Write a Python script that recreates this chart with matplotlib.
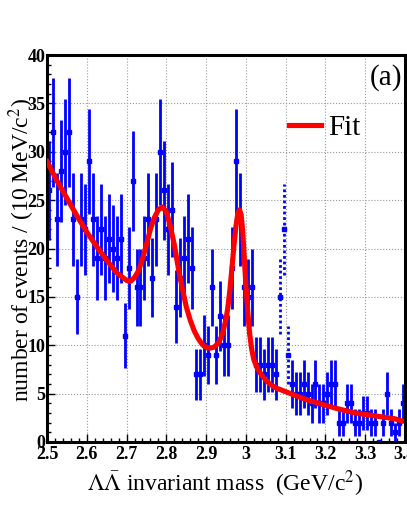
import numpy as np
import matplotlib
matplotlib.use('Agg')
import matplotlib.pyplot as plt
from matplotlib.ticker import MultipleLocator, FuncFormatter

plt.rcParams['font.family'] = ['Liberation Serif', 'DejaVu Serif']
plt.rcParams['mathtext.fontset'] = 'stix'

# ---- data ----
bin_start = 2.50
bin_width = 0.01
counts = [26, 32, 23, 28, 30, 32, 23, 15, 23, 22,
          29, 23, 19, 22, 19, 21, 20, 19, 21, 11,
          18, 27, 16, 16, 19, 23, 17, 23, 30, 26,
          22, 24, 14, 17, 19, 21, 18, 7, 7, 10,
          9, 16, 9, 13, 10, 10, 18, 29, 23, 16,
          15, 16, 8, 8, 7, 8, 8, 7, 15, 22,
          9, 6, 5, 5, 6, 5, 4, 6, 4, 4,
          5, 6, 6, 2, 2, 4, 4, 2, 2, 3,
          3, 2, 2, 0, 2, 5, 2, 1, 2, 4]
dotted_bins = [58, 59, 60]   # J/psi region drawn dotted

fit_x = [2.500, 2.525, 2.550, 2.575, 2.600, 2.625, 2.650, 2.675, 2.700, 2.710,
         2.720, 2.730, 2.740, 2.750, 2.760, 2.770, 2.780, 2.790, 2.800, 2.810,
         2.820, 2.830, 2.840, 2.850, 2.860, 2.870, 2.880, 2.890, 2.900, 2.910,
         2.920, 2.930, 2.940, 2.950, 2.955, 2.960, 2.965, 2.970, 2.975, 2.980,
         2.984, 2.988, 2.992, 2.996, 3.000, 3.005, 3.010, 3.015, 3.020, 3.030,
         3.040, 3.050, 3.060, 3.075, 3.100, 3.125, 3.150, 3.175, 3.200, 3.225,
         3.250, 3.275, 3.300, 3.325, 3.350, 3.375, 3.390]
fit_y = [29.0, 27.0, 25.2, 23.4, 21.7, 20.2, 18.8, 17.5, 16.7, 16.6,
         17.0, 17.7, 18.9, 20.4, 22.0, 23.2, 24.0, 24.3, 23.8, 22.3,
         20.4, 18.0, 15.9, 14.0, 12.6, 11.5, 10.7, 10.1, 9.8, 9.7,
         9.8, 10.2, 11.0, 12.7, 14.0, 15.8, 18.0, 20.3, 22.3, 23.7,
         24.0, 23.5, 21.8, 19.0, 16.2, 13.3, 11.0, 9.5, 8.5, 7.5,
         6.9, 6.4, 6.0, 5.6, 5.2, 4.8, 4.4, 4.1, 3.8, 3.5,
         3.25, 3.0, 2.85, 2.7, 2.55, 2.4, 2.2]

x_ticks = [2.5, 2.6, 2.7, 2.8, 2.9, 3.0, 3.1, 3.2, 3.3, 3.4]
y_ticks = [0, 5, 10, 15, 20, 25, 30, 35, 40]

# ---- derived ----
centers = np.array([bin_start + bin_width * (i + 0.5) for i in range(len(counts))])
vals = np.array(counts, dtype=float)
errs = np.sqrt(vals)
solid = np.array([i not in dotted_bins for i in range(len(counts))])
dot = ~solid

fig = plt.figure(figsize=(4.07, 5.27), dpi=100)
ax = fig.add_axes([47/407, 85/527, 358/407, 387/527])

blue = '#0000ff'
ax.errorbar(centers[solid], vals[solid], yerr=errs[solid], fmt='s', color=blue,
            ms=2.6, elinewidth=2.0, capsize=0, zorder=2)
ax.vlines(centers[dot], vals[dot] - errs[dot], vals[dot] + errs[dot],
          colors=blue, linewidth=2.0, linestyles=(0, (1, 1)), zorder=2)
ax.plot(centers[dot], vals[dot], 's', color=blue, ms=2.6, zorder=2)

ax.plot(fit_x, fit_y, color='#ff0000', lw=3.7, zorder=3, label='Fit')

ax.set_xlim(2.5, 3.4)
ax.set_ylim(0, 40)
ax.set_xticks(x_ticks)
ax.set_yticks(y_ticks)
ax.xaxis.set_minor_locator(MultipleLocator(0.02))
ax.yaxis.set_minor_locator(MultipleLocator(1))
ax.xaxis.set_major_formatter(FuncFormatter(lambda v, p: '%g' % round(v, 2)))
ax.tick_params(which='both', direction='in', top=False, right=False, width=1)
ax.tick_params(which='major', length=6)
ax.tick_params(which='minor', length=3)
ax.tick_params(axis='x', pad=3)
ax.tick_params(axis='y', pad=1)
for lab in ax.get_xticklabels() + ax.get_yticklabels():
    lab.set_fontweight('bold')
    lab.set_fontsize(13)

ax.grid(True, which='major', color='#999999', linestyle=':', lw=0.8)
ax.set_axisbelow(True)
for s in ax.spines.values():
    s.set_linewidth(2.2)

leg = ax.legend(loc='center left', bbox_to_anchor=((289-47)/358, (442-128)/387),
                frameon=False, fontsize=21, handlelength=1.1, handletextpad=0.25,
                borderpad=0, borderaxespad=0)

ax.text((402-47)/358, (442-78)/387, '(a)', transform=ax.transAxes,
        ha='right', va='center', fontsize=21)

fig.text(225/407, 1 - 484/527, r'$\Lambda\bar{\Lambda}$ invariant mass  (GeV/c$^{2}$)',
         ha='center', va='center', fontsize=17)
fig.text(22/407, 1 - 250/527, r'number of events / (10 MeV/c$^{2}$)',
         ha='center', va='center', rotation=90, fontsize=17)

fig.savefig('out.png', dpi=100)
